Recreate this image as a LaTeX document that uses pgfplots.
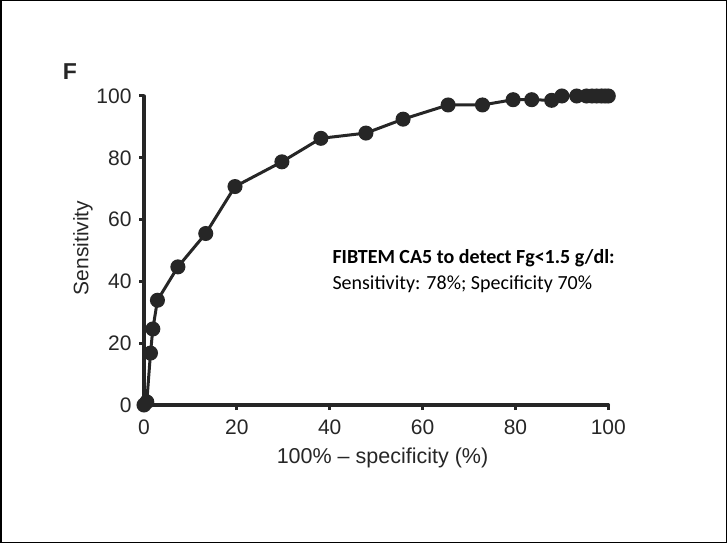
\documentclass[border=0pt]{standalone}
\usepackage{fontspec}
\setmainfont{Liberation Sans}
\newfontfamily\calibri{Carlito}
\usepackage{pgfplots}
\pgfplotsset{compat=1.18}
\begin{document}
\begin{tikzpicture}[x=1pt,y=1pt]
\draw[line width=1.5pt] (0.75,0.75) rectangle (726.25,542.25);
\begin{axis}[
  at={(144pt,138pt)}, anchor=south west,
  scale only axis, width=464.3pt, height=309pt,
  xmin=0, xmax=100, ymin=0, ymax=100,
  axis x line*=bottom, axis y line*=left,
  axis line style={line width=3.5pt, line cap=round, black!85},
  xtick={0,20,...,100}, ytick={0,20,...,100},
  tick align=outside, major tick length=5pt,
  tick style={line width=3pt, black!85},
  /pgf/number format/assume math mode=true,
  ticklabel style={font=\fontsize{21}{24}\selectfont, text=black!85},
  xticklabel style={yshift=-6pt},
  yticklabel style={xshift=-4pt},
  clip=false,
]
\addplot[line width=3pt, black!85, mark=*, mark size=6pt, mark options={fill=black!85, draw=black!85}] coordinates {
(0,0) (0.6,1) (1.4,16.8) (1.9,24.6) (2.9,33.9) (7.3,44.7) (13.3,55.5)
(19.6,70.7) (29.7,78.7) (38.1,86.3) (47.8,88.0) (55.8,92.5) (65.5,97.1)
(72.9,97.1) (79.5,98.8) (83.5,98.8) (87.8,98.6) (90.0,100) (93.2,100)
(95.3,100) (96.5,100) (97.5,100) (98.5,100) (99.3,100) (100,100)
};
\end{axis}
\node[font=\fontsize{23}{26}\selectfont\bfseries, text=black!85] at (70pt,471.5pt) {F};
\node[rotate=90, font=\fontsize{21}{24}\selectfont, text=black!85] at (83pt,295pt) {Sensitivity};
\node[font=\fontsize{21.5}{24}\selectfont, text=black!85] at (382.5pt,85pt) {100\% -- specificity (\%)};
\node[anchor=base west, font=\calibri\fontsize{20}{24}\selectfont\bfseries] at (329pt,279pt) {FIBTEM CA5 to detect Fg<1.5 g/dl:};
\node[anchor=base west, font=\calibri\fontsize{20}{24}\selectfont] at (329pt,253pt) {Sensitivity: 78\%; Specificity 70\%};
\end{tikzpicture}
\end{document}
